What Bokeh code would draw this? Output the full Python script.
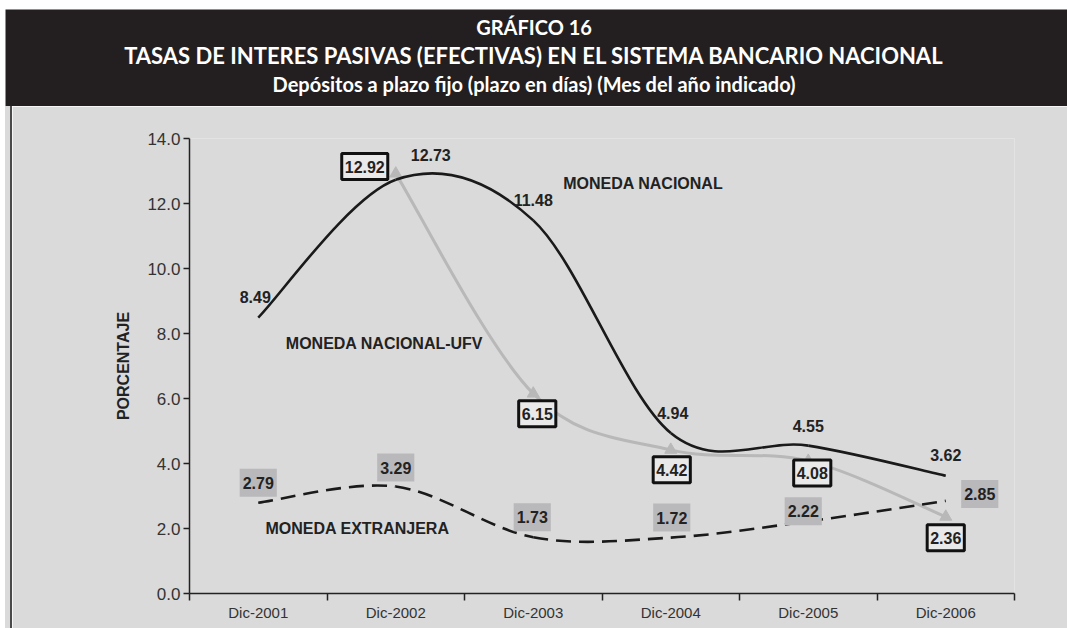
import numpy as np
from bokeh.plotting import figure
from bokeh.layouts import column, row
from bokeh.models import (Range1d, FixedTicker, SingleIntervalTicker,
                          PrintfTickFormatter, ColumnDataSource, Spacer, Div)
from bokeh.core.properties import value
from bokeh.embed import file_html
from bokeh.resources import INLINE

# ---------------- data ----------------
categories = ["Dic-2001", "Dic-2002", "Dic-2003", "Dic-2004", "Dic-2005", "Dic-2006"]
moneda_nacional = [8.49, 12.73, 11.48, 4.94, 4.55, 3.62]
moneda_extranjera = [2.79, 3.29, 1.73, 1.72, 2.22, 2.85]
ufv_categories = ["Dic-2002", "Dic-2003", "Dic-2004", "Dic-2005", "Dic-2006"]
moneda_nacional_ufv = [12.92, 6.15, 4.42, 4.08, 2.36]

title_lines = ["GRÁFICO 16",
               "TASAS DE INTERES PASIVAS (EFECTIVAS) EN EL SISTEMA BANCARIO NACIONAL",
               "Depósitos a plazo fijo (plazo en días) (Mes del año indicado)"]
y_axis_title = "PORCENTAJE"
series_names = ["MONEDA NACIONAL", "MONEDA NACIONAL-UFV", "MONEDA EXTRANJERA"]

# ---------------- styles / label offsets (screen px) ----------------
HEADER = "#231f20"
BG = "#dadada"
GRAY = "#b8b8b8"
BLACK = "#1a1a1a"
mn_off_x = [-3, 35, 0, 2, 0, 0]
mn_off_y = [-21, -25, -20, -20, -20, -21]
me_off_x = [0, 0, -1, 1, -5, 34]
me_off_y = [-20, -19, -20, -20, -10, -7]
ufv_off_x = [-31, 4, 1, 4, 0]
ufv_off_y = [-7, 20, 20, 12, 21]

pos = {c: i + 0.5 for i, c in enumerate(categories)}


def smooth(xs, ys):
    """Bezier control points (Catmull-Rom style smoothing) through the data."""
    xs = np.asarray(xs, float)
    ys = np.asarray(ys, float)
    n = len(xs)
    qx = np.concatenate([[xs[0]], xs, [xs[-1]]])
    qy = np.concatenate([[ys[0]], ys, [ys[-1]]])
    return dict(
        x0=xs[:-1], y0=ys[:-1], x1=xs[1:], y1=ys[1:],
        cx0=qx[1:n] + (qx[2:n + 1] - qx[0:n - 1]) / 6,
        cy0=qy[1:n] + (qy[2:n + 1] - qy[0:n - 1]) / 6,
        cx1=qx[2:n + 1] - (qx[3:n + 2] - qx[1:n]) / 6,
        cy1=qy[2:n + 1] - (qy[3:n + 2] - qy[1:n]) / 6,
    )


mn_x = [pos[c] for c in categories]
ufv_x = [pos[c] for c in ufv_categories]

# ---------------- header ----------------
HW = 1062
h = figure(width=HW, height=97, x_range=Range1d(0, 1), y_range=Range1d(0, 97),
           toolbar_location=None, output_backend="svg", min_border=0,
           x_axis_location=None, y_axis_location=None,
           background_fill_color=HEADER, border_fill_color=HEADER,
           outline_line_color=None)
h.grid.visible = False
for txt, yy, fs in zip(title_lines, [80, 51, 23], ["20px", "22px", "20px"]):
    h.text(x=[0.4977], y=[yy], text=[txt], text_color="white",
           text_font=value("Lato"), text_font_style="bold",
           text_font_size=fs, text_align="center", text_baseline="middle")

# ---------------- left strip with thin border line ----------------
strip_gap = Div(width=5, height=522, margin=(0, 0, 0, 0),
                styles={"background-color": BG})
strip_line = Div(width=2, height=522, margin=(0, 0, 0, 0),
                 styles={"background-color": "#4a4a4a"})

# ---------------- main chart ----------------
p = figure(width=1055, height=522, x_range=Range1d(0, 6), y_range=Range1d(0, 14),
           toolbar_location=None, output_backend="svg",
           min_border_left=177, min_border_right=53, min_border_top=32,
           min_border_bottom=35, background_fill_color=BG,
           border_fill_color=BG, outline_line_color=None)
p.grid.visible = False

xa = p.xaxis[0]
xa.ticker = FixedTicker(ticks=mn_x, minor_ticks=list(range(len(categories) + 1)))
xa.major_label_overrides = {pos[c]: c for c in categories}
xa.major_tick_out = 0
xa.major_tick_in = 0
xa.minor_tick_out = 7
xa.minor_tick_in = 0
xa.minor_tick_line_color = "#222222"
xa.minor_tick_line_width = 1.5
xa.axis_line_color = "#222222"
xa.axis_line_width = 1.5
xa.major_label_standoff = 3
xa.major_label_text_font = "Liberation Sans"
xa.major_label_text_font_size = "15px"
xa.major_label_text_color = "#333333"

ya = p.yaxis[0]
ya.ticker = SingleIntervalTicker(interval=2, num_minor_ticks=0)
ya.formatter = PrintfTickFormatter(format="%.1f")
ya.major_tick_out = 6
ya.major_tick_in = 0
ya.minor_tick_out = 0
ya.minor_tick_in = 0
ya.major_tick_line_color = "#222222"
ya.major_tick_line_width = 1.5
ya.axis_line_color = "#222222"
ya.axis_line_width = 1.5
ya.major_label_standoff = 3
ya.major_label_text_font = "Liberation Sans"
ya.major_label_text_font_size = "17px"
ya.major_label_text_color = "#333333"
ya.axis_label = y_axis_title
ya.axis_label_text_font = "Liberation Sans"
ya.axis_label_text_font_style = "bold"
ya.axis_label_text_font_size = "16px"
ya.axis_label_text_color = "#222222"
ya.axis_label_standoff = 12

# UFV (gray) line with triangle markers
p.bezier(source=ColumnDataSource(smooth(ufv_x, moneda_nacional_ufv)),
         x0="x0", y0="y0", x1="x1", y1="y1", cx0="cx0", cy0="cy0",
         cx1="cx1", cy1="cy1", line_color=GRAY, line_width=3)
p.scatter(ufv_x, moneda_nacional_ufv, marker="triangle", size=12,
          fill_color=GRAY, line_color=GRAY)

# Moneda nacional (solid black)
p.bezier(source=ColumnDataSource(smooth(mn_x, moneda_nacional)),
         x0="x0", y0="y0", x1="x1", y1="y1", cx0="cx0", cy0="cy0",
         cx1="cx1", cy1="cy1", line_color=BLACK, line_width=2.6)

# Moneda extranjera (dashed black)
p.bezier(source=ColumnDataSource(smooth(mn_x, moneda_extranjera)),
         x0="x0", y0="y0", x1="x1", y1="y1", cx0="cx0", cy0="cy0",
         cx1="cx1", cy1="cy1", line_color=BLACK, line_width=2.6,
         line_dash="15 8")

LBL_FONT = value("Liberation Sans")

# value labels
p.text(x=mn_x, y=moneda_nacional, text=["%.2f" % v for v in moneda_nacional],
       x_offset=mn_off_x, y_offset=mn_off_y, text_font=LBL_FONT,
       text_font_style="bold", text_font_size="16px", text_color="#222222",
       text_align="center", text_baseline="middle")

p.text(x=mn_x, y=moneda_extranjera, text=["%.2f" % v for v in moneda_extranjera],
       x_offset=me_off_x, y_offset=me_off_y, text_font=LBL_FONT,
       text_font_style="bold", text_font_size="16px", text_color="#222222",
       text_align="center", text_baseline="middle",
       background_fill_color="#b9b9bb",
       padding=dict(left=3, right=3, top=8, bottom=8))

p.text(x=ufv_x, y=moneda_nacional_ufv, text=["%.2f" % v for v in moneda_nacional_ufv],
       x_offset=ufv_off_x, y_offset=ufv_off_y, text_font=LBL_FONT,
       text_font_style="bold", text_font_size="16px", text_color="#222222",
       text_align="center", text_baseline="middle",
       background_fill_color="#e9e9e9", border_line_color="#111111",
       border_line_width=3, padding=dict(left=3, right=3, top=7, bottom=7))

# series names
p.text(x=[3.30, 1.418, 1.222], y=[12.63, 7.69, 1.99], text=series_names,
       text_font=LBL_FONT, text_font_style="bold", text_font_size="16px",
       text_color="#222222", text_align="center", text_baseline="middle")

layout = column(Spacer(height=9),
                row(Spacer(width=5),
                    column(h, row(strip_gap, strip_line, p))))
open("out.html", "w").write(file_html(layout, INLINE))
